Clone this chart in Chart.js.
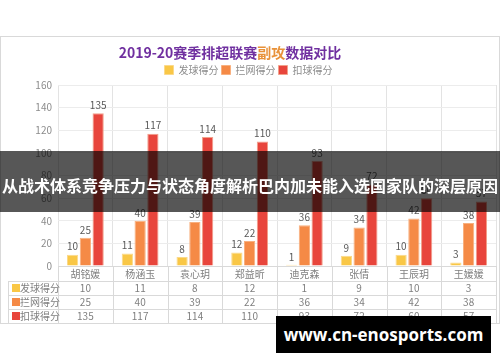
<!DOCTYPE html>
<html>
<head>
<meta charset="utf-8">
<script src="https://cdn.jsdelivr.net/npm/chart.js@4.4.1/dist/chart.umd.min.js"></script>
<style>
  body { margin: 0; background: #fff; width: 500px; height: 362px; position: relative; overflow: hidden; font-family: "Noto Sans CJK SC", sans-serif; }
  #frame { position: absolute; left: 0; top: 36px; width: 500px; height: 288px; box-sizing: border-box; border: 1px solid #d9d9d9; }
  #banner { position: absolute; left: 0; top: 151px; width: 500px; height: 61px; background: rgba(0,0,0,0.66); color: #fff; font-weight: bold; font-size: 16px; line-height: 61px; text-align: center; white-space: nowrap; padding-top: 4px; box-sizing: border-box; }
  #mark { position: absolute; left: 276px; top: 316px; width: 215px; height: 37px; background: #000; color: #fff; font-family: "Open Sans", sans-serif; font-weight: bold; font-size: 17px; line-height: 37px; text-align: center; }
</style>
</head>
<body>
<div id="frame"><canvas id="chart"></canvas></div>
<div id="banner">从战术体系竞争压力与状态角度解析巴内加未能入选国家队的深层原因</div>
<div id="mark">www.cn-enosports.com</div>
<script>
const players = ["胡铭媛", "杨涵玉", "袁心玥", "郑益昕", "迪克森", "张倩", "王辰玥", "王媛媛"];
const serveScores = [10, 11, 8, 12, 1, 9, 10, 3];
const blockScores = [25, 40, 39, 22, 36, 34, 42, 38];
const spikeScores = [135, 117, 114, 110, 93, 72, 60, 57];
const yTicks = [0, 20, 40, 60, 80, 100, 120, 140, 160];

const seriesNames = ["发球得分", "拦网得分", "扣球得分"];
const seriesColors = ["#f9c746", "#f58a46", "#e8453c"];
const seriesBorders = ["#fbd98a", "#f8b07f", "#f2a08a"];
const seriesData = [serveScores, blockScores, spikeScores];

const titlePlugin = {
  id: "twoColorTitle",
  afterDraw(chart) {
    const ctx = chart.ctx;
    const parts = [["2019-20赛季排超联赛", "#7030a0"], ["副攻", "#e8923a"], ["数据对比", "#7030a0"]];
    ctx.save();
    ctx.font = "bold 14px 'Noto Sans CJK SC'";
    ctx.textBaseline = "middle";
    let total = 0;
    parts.forEach(p => total += ctx.measureText(p[0]).width);
    let x = 229 - total / 2;
    parts.forEach(p => {
      ctx.fillStyle = p[1];
      ctx.fillText(p[0], x, 16);
      x += ctx.measureText(p[0]).width;
    });
    ctx.restore();
  }
};

const labelPlugin = {
  id: "barValues",
  afterDatasetsDraw(chart) {
    const ctx = chart.ctx;
    ctx.save();
    ctx.font = "10px 'Noto Sans CJK SC'";
    ctx.fillStyle = "#595959";
    ctx.textAlign = "center";
    ctx.textBaseline = "bottom";
    chart.data.datasets.forEach((ds, di) => {
      chart.getDatasetMeta(di).data.forEach((bar, i) => {
        ctx.fillText(ds.data[i], bar.x, bar.y - 3);
      });
    });
    ctx.restore();
  }
};

const tablePlugin = {
  id: "dataTable",
  afterDraw(chart) {
    const ctx = chart.ctx;
    const x = chart.scales.x;
    const area = chart.chartArea;
    const step = (area.right - area.left) / players.length;
    const left = 7;
    const rowTop = area.bottom + 15;
    const rowH = 14;
    ctx.save();
    ctx.strokeStyle = "#d9d9d9";
    ctx.lineWidth = 1;
    // table borders
    for (let i = 0; i <= players.length; i++) {
      const px = Math.round(area.left + i * step) + 0.5;
      ctx.beginPath();
      ctx.moveTo(px, area.bottom);
      ctx.lineTo(px, rowTop + rowH * 3);
      ctx.stroke();
    }
    ctx.beginPath();
    ctx.moveTo(left + 0.5, rowTop);
    ctx.lineTo(left + 0.5, rowTop + rowH * 3);
    ctx.stroke();
    for (let r = 0; r <= 3; r++) {
      const py = Math.round(rowTop + r * rowH) + 0.5;
      ctx.beginPath();
      ctx.moveTo(left, py);
      ctx.lineTo(area.right, py);
      ctx.stroke();
    }
    ctx.font = "10px 'Noto Sans CJK SC'";
    ctx.fillStyle = "#7f7f7f";
    ctx.textBaseline = "middle";
    ctx.textAlign = "center";
    players.forEach((p, i) => {
      ctx.fillText(p, x.getPixelForValue(i), area.bottom + 8);
    });
    seriesData.forEach((arr, r) => {
      const cy = rowTop + r * rowH + rowH / 2;
      ctx.fillStyle = seriesColors[r];
      ctx.fillRect(left + 4, cy - 4, 8, 8);
      ctx.fillStyle = "#7f7f7f";
      ctx.textAlign = "left";
      ctx.fillText(seriesNames[r], left + 12, cy);
      ctx.textAlign = "center";
      arr.forEach((v, i) => ctx.fillText(v, x.getPixelForValue(i), cy));
    });
    ctx.restore();
  }
};

const chart = new Chart(document.getElementById("chart"), {
  type: "bar",
  data: {
    labels: players,
    datasets: seriesNames.map((name, i) => ({
      label: name,
      data: seriesData[i],
      backgroundColor: seriesColors[i],
      borderColor: seriesBorders[i],
      borderWidth: 1,
      categoryPercentage: 0.7,
      barPercentage: 0.88,
    })),
  },
  options: {
    responsive: true,
    maintainAspectRatio: false,
    animation: false,
    layout: { padding: { top: 25, right: 3, bottom: 57, left: 0 } },
    plugins: {
      legend: {
        position: "top",
        labels: {
          boxWidth: 9,
          boxHeight: 9,
          padding: 3,
          color: "#8c8c8c",
          font: { size: 10, family: "'Noto Sans CJK SC'" },
        },
      },
      tooltip: { enabled: false },
    },
    scales: {
      x: {
        ticks: { display: false },
        grid: { offset: true, color: "#e3e3e3", drawTicks: false },
        border: { color: "#d9d9d9" },
      },
      y: {
        min: 0,
        max: 160,
        afterBuildTicks: (s) => { s.ticks = yTicks.map(v => ({ value: v })); },
        afterFit: (s) => { s.width = 57; },
        ticks: { color: "#8c8c8c", font: { size: 10, family: "'Noto Sans CJK SC'" }, padding: 6 },
        grid: { color: "#ececec", drawTicks: false },
        border: { display: false },
      },
    },
  },
  plugins: [titlePlugin, labelPlugin, tablePlugin],
});
</script>
</body>
</html>
